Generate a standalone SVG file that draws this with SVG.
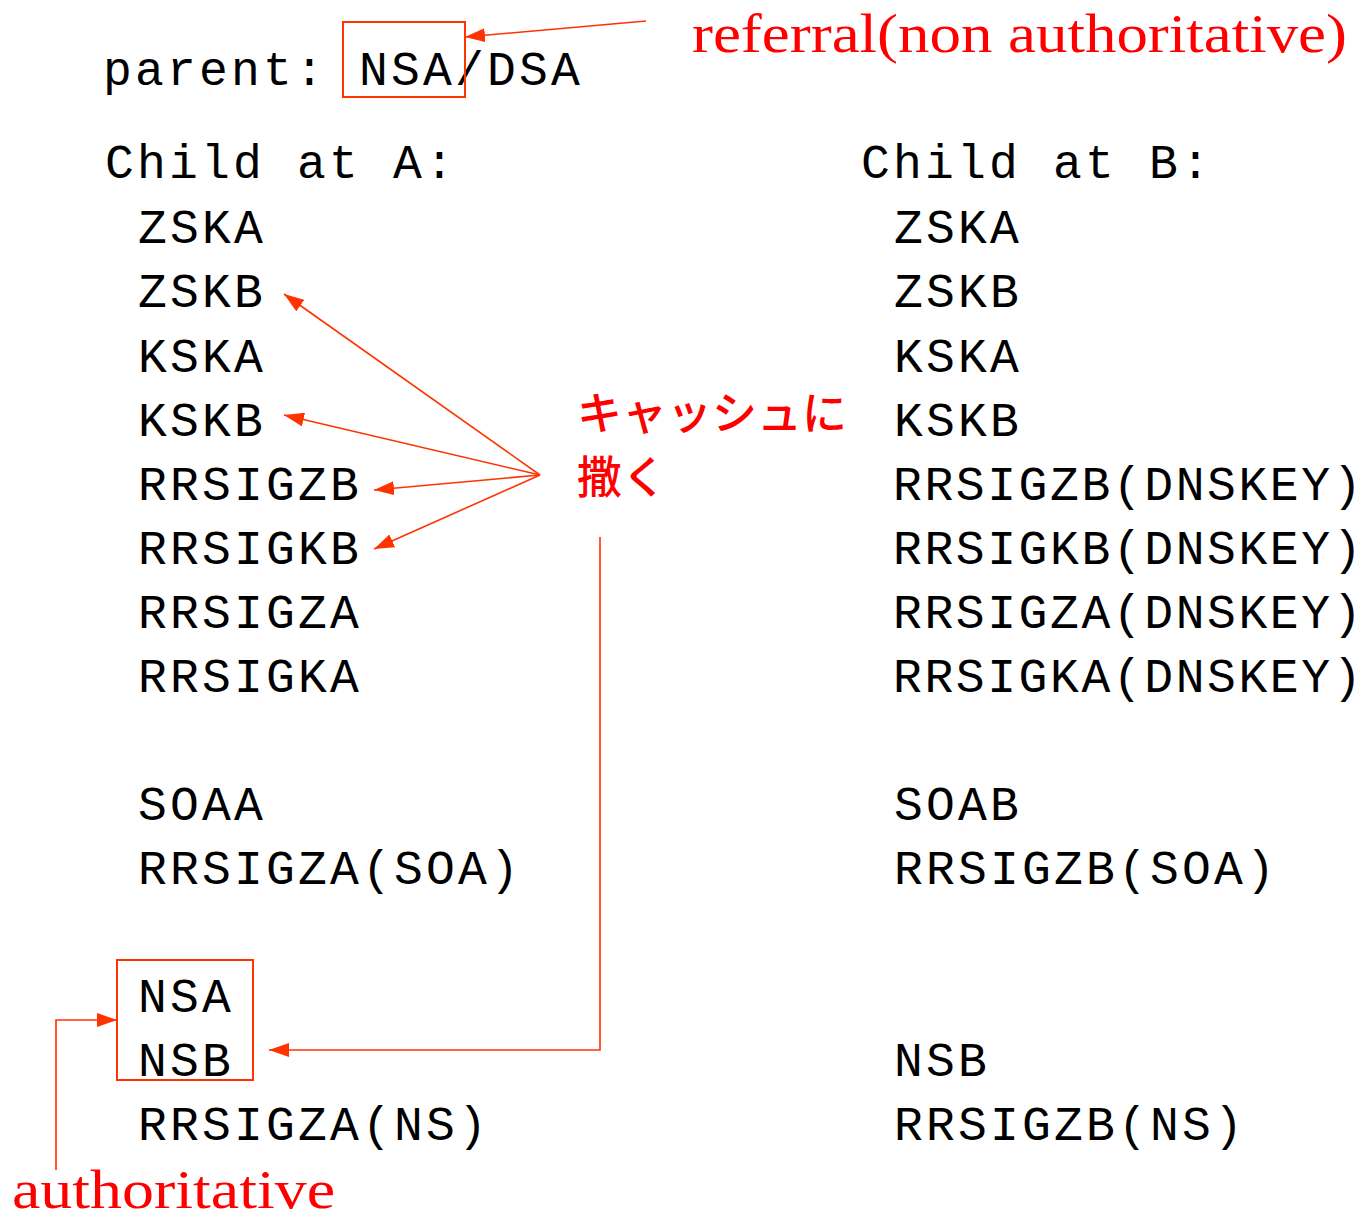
<svg xmlns="http://www.w3.org/2000/svg" width="1364" height="1221" viewBox="0 0 1364 1221">
<defs>
<style>
.m{font-family:"Liberation Mono","Courier New",monospace;font-size:48px;letter-spacing:3.2px;fill:#000}
.k{letter-spacing:2.6px}
.s{font-family:"Liberation Serif","Times New Roman",serif;font-size:54px;fill:#ff0000}
.j{font-family:"Noto Sans CJK JP","Noto Sans",sans-serif;font-size:45px;font-weight:500;fill:#ff0000}
.c{fill:none;stroke:#ff3300;stroke-width:1.6}
.b{fill:none;stroke:#ff3300;stroke-width:2}
</style>
<marker id="ah" viewBox="0 0 20 14" refX="20" refY="7" markerWidth="20" markerHeight="14" markerUnits="userSpaceOnUse" orient="auto">
<path d="M0,0 L20,7 L0,14 Z" fill="#ff3300"/>
</marker>
</defs>
<rect width="1364" height="1221" fill="#fff"/>
<g id="parent">
<text class="m" x="103" y="85">parent: NSA/DSA</text>
<rect class="b" x="343" y="22" width="122" height="75"/>
</g>
<g id="childA">
<text class="m" x="105" y="178">Child at A:</text>
<text class="m" x="138" y="243">ZSKA</text>
<text class="m" x="138" y="307">ZSKB</text>
<text class="m" x="138" y="372">KSKA</text>
<text class="m" x="138" y="436">KSKB</text>
<text class="m" x="138" y="500">RRSIGZB</text>
<text class="m" x="138" y="564">RRSIGKB</text>
<text class="m" x="138" y="628">RRSIGZA</text>
<text class="m" x="138" y="692">RRSIGKA</text>
<text class="m" x="138" y="820">SOAA</text>
<text class="m" x="138" y="884">RRSIGZA(SOA)</text>
<text class="m" x="138" y="1012">NSA</text>
<text class="m" x="138" y="1076">NSB</text>
<text class="m" x="138" y="1140">RRSIGZA(NS)</text>
<rect class="b" x="117" y="960" width="136" height="120"/>
</g>
<g id="childB">
<text class="m" x="861" y="178">Child at B:</text>
<text class="m" x="894" y="243">ZSKA</text>
<text class="m" x="894" y="307">ZSKB</text>
<text class="m" x="894" y="372">KSKA</text>
<text class="m" x="894" y="436">KSKB</text>
<text class="m k" x="893" y="500">RRSIGZB(DNSKEY)</text>
<text class="m k" x="893" y="564">RRSIGKB(DNSKEY)</text>
<text class="m k" x="893" y="628">RRSIGZA(DNSKEY)</text>
<text class="m k" x="893" y="692">RRSIGKA(DNSKEY)</text>
<text class="m" x="894" y="820">SOAB</text>
<text class="m" x="894" y="884">RRSIGZB(SOA)</text>
<text class="m" x="894" y="1076">NSB</text>
<text class="m" x="894" y="1140">RRSIGZB(NS)</text>
</g>
<g id="labels">
<text class="s" x="692" y="52" textLength="655" lengthAdjust="spacingAndGlyphs">referral(non authoritative)</text>
<text class="s" x="12" y="1208" textLength="323" lengthAdjust="spacingAndGlyphs">authoritative</text>
<text class="j" x="577" y="430">キャッシュに</text>
<text class="j" x="577" y="494">撒く</text>
</g>
<g id="connectors">
<line class="c" x1="646" y1="21" x2="465" y2="37" marker-end="url(#ah)"/>
<line class="c" x1="540" y1="475" x2="284" y2="294" marker-end="url(#ah)"/>
<line class="c" x1="540" y1="475" x2="284" y2="415" marker-end="url(#ah)"/>
<line class="c" x1="540" y1="475" x2="374" y2="490" marker-end="url(#ah)"/>
<line class="c" x1="540" y1="475" x2="374" y2="549" marker-end="url(#ah)"/>
<polyline class="c" points="600,537 600,1050 269,1050" marker-end="url(#ah)"/>
<polyline class="c" points="56,1170 56,1020 117,1020" marker-end="url(#ah)"/>
</g>
</svg>
